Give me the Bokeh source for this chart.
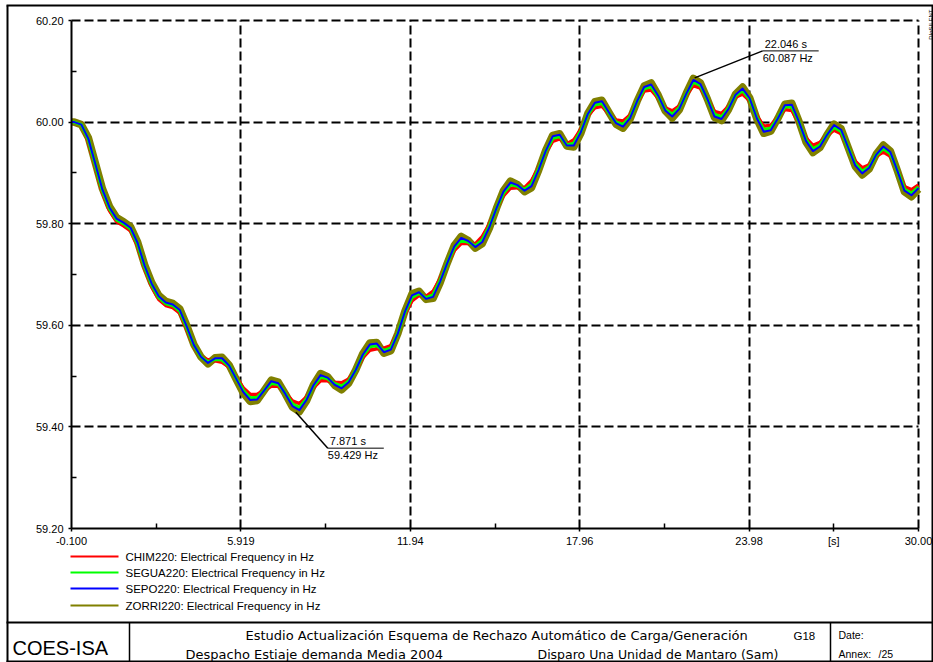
from bokeh.plotting import figure
from bokeh.models import FixedTicker, PrintfTickFormatter, Range1d
from bokeh.core.properties import value
from bokeh.embed import file_html
from bokeh.resources import INLINE

FONT = "Liberation Sans"
TABLE_FONT = "DejaVu Sans"

# ---------------- data ----------------
TIME_S = [-0.1, 0.0, 0.25, 0.5, 0.75, 1.0, 1.25, 1.5, 1.75, 2.0, 2.25, 2.5, 2.75, 3.0, 3.25, 3.5, 3.75,
          4.0, 4.25, 4.5, 4.75, 5.0, 5.25, 5.5, 5.75, 6.0, 6.25, 6.5, 6.75, 7.0, 7.25, 7.5, 7.75,
          8.0, 8.25, 8.5, 8.75, 9.0, 9.25, 9.5, 9.75, 10.0, 10.25, 10.5, 10.75, 11.0, 11.25, 11.5, 11.75,
          12.0, 12.25, 12.5, 12.75, 13.0, 13.25, 13.5, 13.75, 14.0, 14.25, 14.5, 14.75, 15.0, 15.25, 15.5, 15.75,
          16.0, 16.25, 16.5, 16.75, 17.0, 17.25, 17.5, 17.75, 18.0, 18.25, 18.5, 18.75, 19.0, 19.25, 19.5, 19.75,
          20.0, 20.25, 20.5, 20.75, 21.0, 21.25, 21.5, 21.75, 22.0, 22.25, 22.5, 22.75, 23.0, 23.25, 23.5, 23.75,
          24.0, 24.25, 24.5, 24.75, 25.0, 25.25, 25.5, 25.75, 26.0, 26.25, 26.5, 26.75, 27.0, 27.25, 27.5, 27.75,
          28.0, 28.25, 28.5, 28.75, 29.0, 29.25, 29.5, 29.75, 30.0]

CHIM220 = [60.000, 60.000, 59.995, 59.961, 59.911, 59.861, 59.826, 59.804, 59.796, 59.786, 59.756, 59.711, 59.676,
           59.651, 59.639, 59.635, 59.624, 59.591, 59.558, 59.538, 59.532, 59.530, 59.527, 59.518, 59.498, 59.477,
           59.464, 59.464, 59.472, 59.480, 59.480, 59.467, 59.451, 59.446, 59.459, 59.477, 59.491, 59.491, 59.488,
           59.487, 59.494, 59.512, 59.536, 59.551, 59.554, 59.555, 59.560, 59.586, 59.622, 59.648, 59.659, 59.657,
           59.667, 59.692, 59.722, 59.747, 59.761, 59.761, 59.760, 59.775, 59.799, 59.830, 59.855, 59.870, 59.871,
           59.871, 59.885, 59.911, 59.940, 59.962, 59.967, 59.957, 59.965, 59.986, 60.013, 60.028, 60.031, 60.017,
           60.004, 60.002, 60.014, 60.039, 60.061, 60.063, 60.047, 60.028, 60.022, 60.032, 60.053, 60.072, 60.067,
           60.045, 60.021, 60.017, 60.031, 60.049, 60.055, 60.042, 60.013, 59.992, 59.994, 60.009, 60.025, 60.023,
           59.998, 59.969, 59.954, 59.960, 59.975, 59.984, 59.977, 59.950, 59.923, 59.910, 59.916, 59.933, 59.941,
           59.933, 59.906, 59.873, 59.867, 59.876]

SEGUA220 = [60.000, 60.000, 59.995, 59.965, 59.915, 59.865, 59.830, 59.808, 59.800, 59.790, 59.760, 59.715, 59.680,
            59.655, 59.643, 59.639, 59.628, 59.595, 59.560, 59.538, 59.528, 59.533, 59.532, 59.520, 59.496, 59.472,
            59.457, 59.458, 59.472, 59.486, 59.484, 59.466, 59.445, 59.438, 59.455, 59.480, 59.498, 59.495, 59.485,
            59.480, 59.490, 59.512, 59.540, 59.558, 59.560, 59.550, 59.555, 59.585, 59.625, 59.655, 59.663, 59.654,
            59.660, 59.688, 59.722, 59.752, 59.768, 59.764, 59.756, 59.768, 59.795, 59.830, 59.860, 59.877, 59.874,
            59.867, 59.878, 59.908, 59.942, 59.968, 59.972, 59.955, 59.958, 59.982, 60.015, 60.034, 60.037, 60.018,
            60.000, 59.995, 60.010, 60.040, 60.066, 60.070, 60.050, 60.025, 60.015, 60.028, 60.055, 60.079, 60.072,
            60.045, 60.015, 60.010, 60.028, 60.052, 60.062, 60.045, 60.010, 59.985, 59.988, 60.008, 60.030, 60.030,
            60.000, 59.965, 59.947, 59.955, 59.975, 59.990, 59.982, 59.950, 59.918, 59.903, 59.912, 59.935, 59.948,
            59.938, 59.905, 59.868, 59.860, 59.872]

SEPO220 = [60.000, 60.000, 59.995, 59.967, 59.917, 59.867, 59.832, 59.810, 59.802, 59.792, 59.762, 59.717, 59.682,
           59.657, 59.645, 59.641, 59.630, 59.597, 59.561, 59.538, 59.526, 59.535, 59.535, 59.521, 59.495, 59.469,
           59.453, 59.454, 59.472, 59.490, 59.486, 59.465, 59.441, 59.433, 59.453, 59.482, 59.502, 59.497, 59.483,
           59.476, 59.488, 59.512, 59.542, 59.562, 59.564, 59.547, 59.552, 59.584, 59.627, 59.659, 59.665, 59.652,
           59.656, 59.686, 59.722, 59.755, 59.772, 59.766, 59.754, 59.764, 59.793, 59.830, 59.863, 59.881, 59.876,
           59.865, 59.874, 59.906, 59.943, 59.972, 59.975, 59.954, 59.954, 59.980, 60.016, 60.038, 60.041, 60.019,
           59.998, 59.991, 60.008, 60.041, 60.069, 60.074, 60.052, 60.023, 60.011, 60.026, 60.056, 60.083, 60.075,
           60.045, 60.011, 60.006, 60.026, 60.054, 60.066, 60.047, 60.008, 59.981, 59.984, 60.007, 60.033, 60.034,
           60.001, 59.963, 59.943, 59.952, 59.975, 59.994, 59.985, 59.950, 59.915, 59.899, 59.910, 59.936, 59.952,
           59.941, 59.904, 59.865, 59.856, 59.870]

ZORRI220 = [60.000, 60.000, 59.995, 59.969, 59.919, 59.869, 59.834, 59.812, 59.804, 59.794, 59.764, 59.719, 59.684,
            59.659, 59.647, 59.643, 59.632, 59.599, 59.562, 59.538, 59.524, 59.536, 59.537, 59.522, 59.494, 59.467,
            59.450, 59.452, 59.472, 59.492, 59.488, 59.465, 59.439, 59.430, 59.451, 59.483, 59.505, 59.499, 59.482,
            59.473, 59.486, 59.512, 59.544, 59.565, 59.566, 59.545, 59.550, 59.584, 59.628, 59.662, 59.667, 59.651,
            59.653, 59.684, 59.722, 59.757, 59.775, 59.767, 59.752, 59.761, 59.791, 59.830, 59.865, 59.884, 59.877,
            59.863, 59.871, 59.905, 59.944, 59.974, 59.977, 59.953, 59.951, 59.978, 60.017, 60.040, 60.043, 60.019,
            59.996, 59.988, 60.006, 60.041, 60.071, 60.077, 60.053, 60.022, 60.008, 60.024, 60.057, 60.086, 60.077,
            60.045, 60.009, 60.003, 60.025, 60.055, 60.069, 60.048, 60.007, 59.978, 59.982, 60.007, 60.035, 60.037,
            60.002, 59.961, 59.940, 59.950, 59.975, 59.996, 59.987, 59.950, 59.913, 59.896, 59.908, 59.937, 59.955,
            59.943, 59.904, 59.863, 59.853, 59.868]

SERIES_NAMES = ["CHIM220", "SEGUA220", "SEPO220", "ZORRI220"]
SERIES_UNIT_TEXT = "Electrical Frequency in Hz"
X0, X1 = -0.1, 30.0
Y0, Y1 = 59.2, 60.2
X_TICKS = [-0.1, 5.92, 11.94, 17.96, 23.98, 26.99, 30.0]
X_TICK_LABELS = ["-0.100", "5.919", "11.94", "17.96", "23.98", "[s]", "30.00"]
X_MINOR = [2.91, 8.93, 14.95, 20.97, 26.99]
X_GRID = [5.92, 11.94, 17.96, 23.98, 30.0]
Y_TICKS = [59.2, 59.4, 59.6, 59.8, 60.0, 60.2]
Y_MINOR = [59.3, 59.5, 59.7, 59.9, 60.1]
Y_GRID = [59.4, 59.6, 59.8, 60.0, 60.2]
MARK_T = [7.871, 22.046]
MARK_F = [59.429, 60.087]

TITLE_LOGO = "COES-ISA"
TITLE_ROW1 = "Estudio Actualización Esquema de Rechazo Automático de Carga/Generación"
TITLE_ROW2A = "Despacho Estiaje demanda Media 2004"
TITLE_ROW2B = "Disparo Una Unidad de Mantaro (Sam)"
TITLE_CODE = "G18"
DATE_TEXT = "Date:"
ANNEX_TEXT = "Annex:"
ANNEX_NUM = "/25"
BRAND = "DIgSILENT"

# ---------------- layout (canvas pixels) ----------------
W, H = 933, 662
FL, FT, FW, FH = 71, 20, 847, 508     # plot area inside the canvas
FB = FT + FH
PXS = FW / (X1 - X0)                   # pixels per second
PXH = FH / (Y1 - Y0)                   # pixels per Hz

COLORS = {"CHIM220": "#ff0000", "SEGUA220": "#00ff00", "SEPO220": "#0000ff", "ZORRI220": "#808000"}

# the frame covers the whole canvas; axes are pinned to the plot area with fixed_location
p = figure(width=W, height=H,
           x_range=Range1d(X0 - FL / PXS, X1 + (W - FL - FW) / PXS),
           y_range=Range1d(Y0 - (H - FB) / PXH, Y1 + FT / PXH),
           output_backend="svg", toolbar_location=None,
           min_border=0, min_border_left=0, min_border_right=0, min_border_top=0, min_border_bottom=0)
p.outline_line_color = None
p.background_fill_color = "white"
p.border_fill_color = "white"
p.extra_x_ranges = {"px": Range1d(0, W)}
p.extra_y_ranges = {"px": Range1d(H, 0)}

xa, ya = p.xaxis[0], p.yaxis[0]
xa.fixed_location = Y0
ya.fixed_location = X0
xa.bounds = (X0, X1)
ya.bounds = (Y0, Y1)
for ax in (xa, ya):
    ax.axis_line_width = 2
    ax.axis_line_color = "black"
    ax.major_tick_in = 0
    ax.major_tick_out = 3
    ax.minor_tick_in = 5
    ax.minor_tick_out = 0
    ax.major_tick_line_width = 1.5
    ax.minor_tick_line_width = 1.5
    ax.major_tick_line_color = "black"
    ax.minor_tick_line_color = "black"
    ax.major_label_text_font = FONT
    ax.major_label_text_font_size = "11px"
    ax.major_label_text_color = "black"
ya.major_label_standoff = 5
xa.major_label_standoff = 3

xa.ticker = FixedTicker(ticks=X_TICKS, minor_ticks=X_MINOR)
xa.major_label_overrides = dict(zip(X_TICKS, X_TICK_LABELS))
ya.ticker = FixedTicker(ticks=Y_TICKS, minor_ticks=Y_MINOR)
ya.formatter = PrintfTickFormatter(format="%.2f")

GRID_STYLE = dict(line_color="black", line_width=2, line_dash="9 4")
use_glyph_grid = False
try:
    p.xgrid[0].cross_bounds = (Y0, Y1)
    p.ygrid[0].cross_bounds = (X0, X1)
    p.xgrid[0].bounds = (X0, X1)
    p.ygrid[0].bounds = (Y0, Y1)
except Exception:
    use_glyph_grid = True

if use_glyph_grid:
    p.xgrid.visible = False
    p.ygrid.visible = False
    p.segment(x0=X_GRID, y0=[Y0] * len(X_GRID), x1=X_GRID, y1=[Y1] * len(X_GRID), **GRID_STYLE)
    p.segment(x0=[X0] * len(Y_GRID), y0=Y_GRID, x1=[X1] * len(Y_GRID), y1=Y_GRID, **GRID_STYLE)
else:
    p.xgrid.ticker = FixedTicker(ticks=X_GRID)
    p.ygrid.ticker = FixedTicker(ticks=Y_GRID)
    for g in (p.xgrid[0], p.ygrid[0]):
        g.grid_line_color = "black"
        g.grid_line_width = 2
        g.grid_line_dash = "9 4"
        g.grid_line_alpha = 1.0

# curves: olive (wide) first, then the others on top
p.line(TIME_S, ZORRI220, line_color=COLORS["ZORRI220"], line_width=7.5, line_join="round")
p.line(TIME_S, CHIM220, line_color=COLORS["CHIM220"], line_width=3.5, line_join="round")
p.line(TIME_S, SEGUA220, line_color=COLORS["SEGUA220"], line_width=3.5, line_join="round")
p.line(TIME_S, SEPO220, line_color=COLORS["SEPO220"], line_width=2, line_join="round")

PX = dict(x_range_name="px", y_range_name="px")


def seg(cx0, cy0, cx1, cy1, width=1.0, color="black"):
    p.segment(x0=[cx0], y0=[cy0], x1=[cx1], y1=[cy1], line_color=color, line_width=width, **PX)


def text(cx, cy, s, size="11px", font=FONT, baseline="middle", align="left", angle=0.0):
    p.text(x=[cx], y=[cy], text=[s], text_font=value(font), text_font_size=value(size),
           text_color="black", text_baseline=value(baseline), text_align=value(align),
           angle=angle, **PX)


# marked points with leader lines and value labels
OFFSETS = [(32, 36), (68, -27)]   # (right, down) in pixels from the marked point
for t, f, (dx, dy) in zip(MARK_T, MARK_F, OFFSETS):
    cx = FL + (t - X0) * PXS
    cy = FB - (f - Y0) * PXH
    ex, ey = cx + dx, cy + dy
    seg(cx, cy, ex, ey, width=1.5)
    seg(ex, ey, ex + 56, ey, width=1)
    text(ex + 2, ey - 1, f"{t:.3f} s", baseline="bottom")
    text(ex, ey + 1, f"{f:.3f} Hz", baseline="top")

# legend below the plot area
LEG_Y = [556, 572, 588, 605]
for name, cy in zip(SERIES_NAMES, LEG_Y):
    seg(70, cy, 118, cy, width=2, color=COLORS[name])
    text(125, cy, f"{name}: {SERIES_UNIT_TEXT}", size="11.5px")

# outer frame and title block
seg(7, 5, 7, H, width=2)
seg(932, 5, 932, H, width=2)
seg(6, 5, 933, 5, width=2)
seg(6, 661, 933, 661, width=2)
seg(6, 622, 933, 622, width=2)
seg(129, 622, 129, H, width=1.5)
seg(830, 622, 830, H, width=1.5)

text(12, 647, TITLE_LOGO, size="20px")
text(245, 635, TITLE_ROW1, size="13px", font=TABLE_FONT)
text(793, 635, TITLE_CODE, size="11.5px")
text(185, 654, TITLE_ROW2A, size="13px", font=TABLE_FONT)
text(537, 654, TITLE_ROW2B, size="12.5px", font=TABLE_FONT)
text(838, 634, DATE_TEXT, size="10.5px")
text(838, 653, ANNEX_TEXT, size="10.5px")
text(878, 653, ANNEX_NUM, size="10.5px")
text(930, 9, BRAND, size="6px", baseline="middle", align="right", angle=1.5708)

open("out.html", "w").write(file_html(p, INLINE))
